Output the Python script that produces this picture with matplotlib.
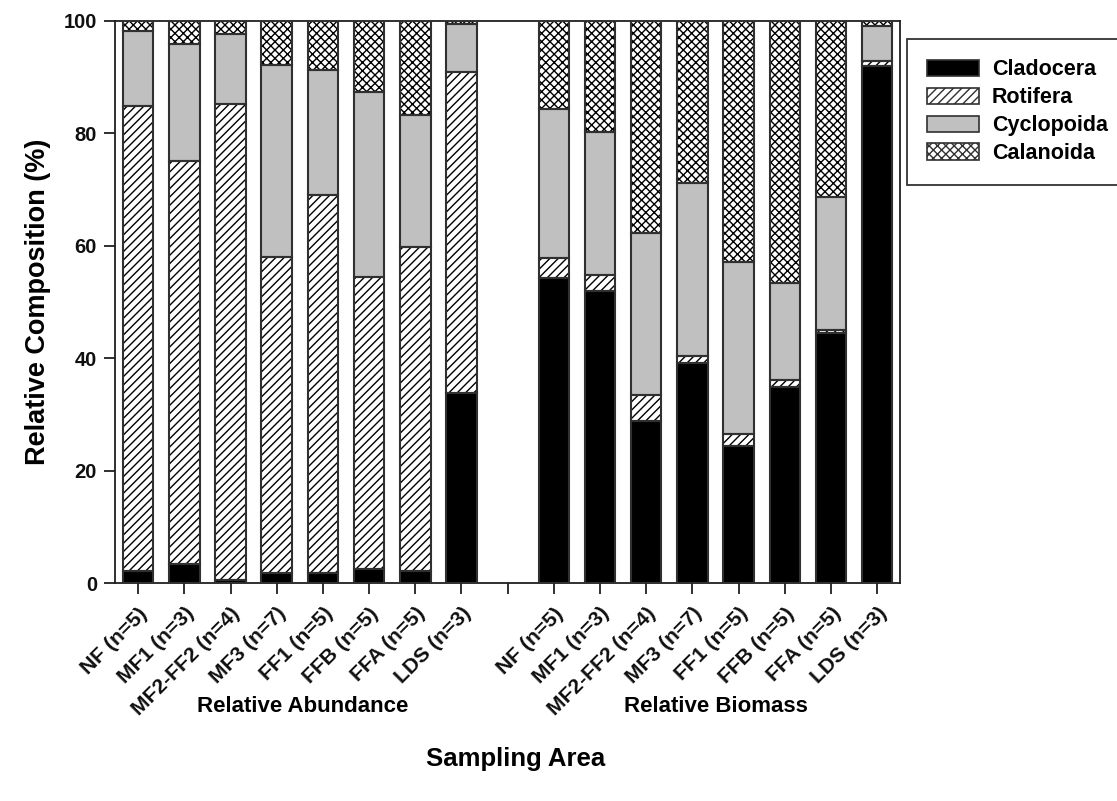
import matplotlib
matplotlib.use("Agg")
import matplotlib.pyplot as plt
from matplotlib.patches import Patch
import numpy as np

plt.rcParams['font.family'] = ['Liberation Sans', 'DejaVu Sans']
plt.rcParams['font.weight'] = 'bold'
plt.rcParams['hatch.linewidth'] = 1.0

sites = ["NF (n=5)", "MF1 (n=3)", "MF2-FF2 (n=4)", "MF3 (n=7)",
         "FF1 (n=5)", "FFB (n=5)", "FFA (n=5)", "LDS (n=3)"]
groups = ["Relative Abundance", "Relative Biomass"]
taxa = ["Cladocera", "Rotifera", "Cyclopoida", "Calanoida"]

# Relative abundance (%) per site
abund_cladocera = [2.1, 3.4, 0.6, 1.8, 1.8, 2.6, 2.1, 33.8]
abund_rotifera = [82.8, 71.7, 84.6, 56.2, 67.2, 51.9, 57.7, 57.1]
abund_cyclopoida = [13.3, 20.7, 12.4, 34.1, 22.3, 32.8, 23.4, 8.5]
abund_calanoida = [1.8, 4.2, 2.4, 7.9, 8.7, 12.7, 16.8, 0.6]

# Relative biomass (%) per site
biom_cladocera = [54.2, 52.0, 28.9, 39.2, 24.3, 34.9, 44.4, 91.9]
biom_rotifera = [3.6, 2.8, 4.6, 1.2, 2.3, 1.2, 0.6, 0.9]
biom_cyclopoida = [26.6, 25.4, 28.7, 30.7, 30.5, 17.3, 23.6, 6.3]
biom_calanoida = [15.6, 19.8, 37.8, 28.9, 42.9, 46.6, 31.4, 0.9]

styles = {
    "Cladocera": dict(facecolor="black", hatch=None),
    "Rotifera": dict(facecolor="white", hatch="////"),
    "Cyclopoida": dict(facecolor="#c0c0c0", hatch=None),
    "Calanoida": dict(facecolor="white", hatch="xxxx"),
}
edge = "#303030"

fig = plt.figure(figsize=(11.17, 8.01), dpi=100)
ax = fig.add_axes([0.103, 0.272, 0.703, 0.702])

n = len(sites)
pos_abund = np.arange(n)
pos_biom = np.arange(n) + n + 1
width = 0.66

for positions, series in [
    (pos_abund, [abund_cladocera, abund_rotifera, abund_cyclopoida, abund_calanoida]),
    (pos_biom, [biom_cladocera, biom_rotifera, biom_cyclopoida, biom_calanoida]),
]:
    bottom = np.zeros(n)
    for name, vals in zip(taxa, series):
        vals = np.asarray(vals)
        st = styles[name]
        # fill with black hatching
        ax.bar(positions, vals, width, bottom=bottom, color=st["facecolor"],
               hatch=st["hatch"], edgecolor="black", linewidth=0, zorder=2)
        # segment outline
        ax.bar(positions, vals, width, bottom=bottom, fill=False,
               edgecolor=edge, linewidth=1.5, zorder=3)
        bottom = bottom + vals

all_pos = np.arange(2 * n + 1)
labels = sites + [""] + sites
ax.set_xticks(all_pos)
ax.set_xticklabels(labels, rotation=45, ha="right", rotation_mode="anchor",
                   fontsize=15.2, fontweight="bold")
ax.set_xlim(-0.5, 2 * n + 0.5)
ax.set_ylim(0, 100)
ax.set_yticks([0, 20, 40, 60, 80, 100])
ax.tick_params(axis="both", direction="out", length=8, width=1.3, colors="#202020",
               labelcolor="#101010")
ax.tick_params(axis="y", labelsize=14.5, pad=5)
ax.tick_params(axis="x", pad=7)
for s in ax.spines.values():
    s.set_linewidth(1.3)
    s.set_color("#202020")

ax.set_ylabel("Relative Composition (%)", fontsize=19.5, fontweight="bold", labelpad=9)

fig.text(303 / 1117, 1 - 707 / 801, groups[0], ha="center", va="center",
         fontsize=16, fontweight="bold")
fig.text(716 / 1117, 1 - 707 / 801, groups[1], ha="center", va="center",
         fontsize=16, fontweight="bold")
fig.text(516 / 1117, 1 - 759 / 801, "Sampling Area", ha="center", va="center",
         fontsize=18.5, fontweight="bold")

handles = [Patch(facecolor=styles[t]["facecolor"], hatch=styles[t]["hatch"],
                 edgecolor=edge, linewidth=1.2, label=t) for t in taxa]
leg = fig.legend(handles=handles, loc="upper left",
                 bbox_to_anchor=(907 / 1117, 1 - 39 / 801),
                 frameon=True, fancybox=False, fontsize=15.5,
                 handlelength=2.4, handleheight=0.8, handletextpad=0.6,
                 labelspacing=0.32, borderpad=0.95, borderaxespad=0)
leg.get_frame().set_edgecolor("black")
leg.get_frame().set_linewidth(1.3)
for t in leg.get_texts():
    t.set_fontweight("bold")

fig.savefig("out.png", dpi=100)
